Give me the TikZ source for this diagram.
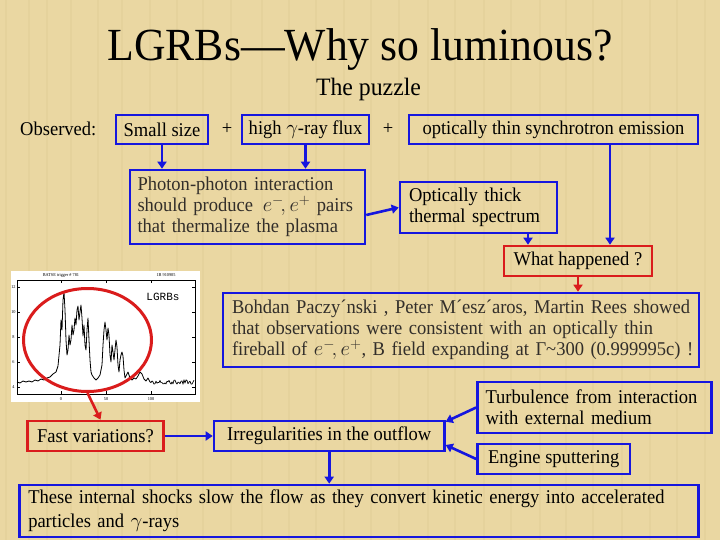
\documentclass[tikz,border=0pt]{standalone}
\usepackage{fontspec}
\setmainfont{Liberation Serif}[FakeStretch=0.95]
\newfontfamily\plotmono{Liberation Mono}
\usetikzlibrary{arrows.meta,calc,shapes.geometric}
\definecolor{bg}{RGB}{234,215,162}
\definecolor{bgdark}{RGB}{200,175,115}
\definecolor{bblue}{RGB}{22,22,222}
\definecolor{rred}{RGB}{218,28,28}
\definecolor{gtext}{RGB}{50,46,42}
\begin{document}
\begin{tikzpicture}[x=1pt,y=-1pt,
  box/.style={draw=bblue,line width=2.6pt,inner sep=0pt,font=\fontsize{19.5}{21}\selectfont},
  rbox/.style={box,draw=rred},
  arr/.style={draw=bblue,line width=2.6pt,-{Triangle[length=7pt,width=9pt]}},
  rarr/.style={arr,draw=rred},
  txt/.style={font=\fontsize{19.5}{21}\selectfont,inner sep=0pt},
  tiny/.style={font=\fontsize{4.5}{5}\selectfont,inner sep=0pt}]
\fill[bg] (0,0) rectangle (720,540);
\useasboundingbox (0,0) rectangle (720,540);
\foreach \x in {6,29,47,71,98,122,150,177,203,231,262,289,316,344,371,399,428,455,484,511,540,566,593,622,650,677,705}
  \draw[bgdark,opacity=0.12,line width=2pt] (\x,0) -- (\x,540);

% titles
\node[font=\fontsize{46}{50}\selectfont,anchor=base,inner sep=0pt] (title) at (360,61) {LGRBs—Why so luminous?};
\node[font=\fontsize{25}{28}\selectfont,anchor=base,inner sep=0pt] (sub) at (368.5,96) {The puzzle};

% first row
\node[txt,anchor=base west] (obs) at (20,135.5) {Observed:};
\node[box,minimum width=92pt,minimum height=29pt] (small) at (162,129.5) {Small size};
\node[txt] (plus1) at (227,129) {+};
\node[box,minimum width=127pt,minimum height=29pt] (high) at (305.5,129.5) {high $\gamma$-ray flux};
\node[txt] (plus2) at (388,129) {+};
\node[box,minimum width=289pt,minimum height=29pt] (thin) at (553.5,129.5) {optically thin synchrotron emission};

% second row
\node[box,minimum width=235pt,minimum height=74pt,text width=220pt,align=left,inner xsep=7.5pt,text=gtext] (photon) at (247.5,207)
  {\mbox{Photon-photon interaction}\\ \mbox{should produce \,$e^-\!, e^+$ pairs}\\ \mbox{that thermalize the plasma}};
\node[box,minimum width=157pt,minimum height=51pt,text width=139pt,align=left,inner xsep=9pt] (thick) at (478.5,207.5)
  {\mbox{Optically thick}\\ \mbox{thermal spectrum}};
\node[rbox,minimum width=148pt,minimum height=30pt] (what) at (578,261) {What happened ?};

% plot
\node[fill=white,minimum width=188.5pt,minimum height=131.6pt,inner sep=0pt] (plotimg) at (105.25,336.5) {};
\draw[line width=0.5pt] (17,280) rectangle (195,394);
\foreach \yy/\lab in {286.7/12,311.7/10,336.7/8,361.7/6,386.7/4} {
  \draw[line width=0.4pt] (17,\yy) -- (20,\yy);
  \draw[line width=0.4pt] (195,\yy) -- (192,\yy);
  \node[tiny] at (13.5,\yy) {\lab};
}
\foreach \xx/\lab in {61/0,106/50,151/100} {
  \draw[line width=0.4pt] (\xx,394) -- (\xx,391);
  \draw[line width=0.4pt] (\xx,280) -- (\xx,283);
  \node[tiny] at (\xx,399) {\lab};
}
\node[tiny] (hdr1) at (61,275.5) {BATSE trigger \# 781};
\node[tiny] (hdr2) at (166,275.5) {1B 910905};
\draw[line width=0.8pt,line join=round] plot coordinates {
(17,382)(20,383)(23,381)(26,382)(29,381)(32,382)(35,380)(38,381)(41,379)(44,380)(47,378)(50,377)(53,374)(56,372)(58,366)(60,345)(61,320)(62,330)(63,300)(64,292)(65,310)(66,340)(67,355)(68,350)(69,335)(70,345)(71,340)(72,325)(73,335)(74,330)(75,318)(76,325)(77,310)(78,306)(79,320)(80,312)(81,305)(82,318)(83,336)(84,325)(85,345)(86,350)(87,330)(88,318)(89,340)(90,360)(91,372)(92,375)(94,378)(96,380)(98,378)(100,375)(102,365)(103,345)(104,330)(105,322)(106,330)(107,340)(108,328)(109,335)(110,355)(111,362)(112,345)(113,352)(114,360)(115,350)(116,340)(117,347)(118,365)(119,372)(120,360)(121,355)(122,352)(123,356)(124,370)(125,378)(127,374)(128,372)(130,378)(132,380)(134,378)(136,379)(138,376)(140,372)(142,374)(144,379)(146,381)(148,378)(150,382)};
\pgfmathsetseed{7}
\draw[line width=0.7pt,line join=round] (150,382) \foreach \i in {1,...,44} { -- ({150+\i},{382+2.2*rand}) };
\node[font=\plotmono\fontsize{11}{12}\selectfont,inner sep=0pt] (lgrbs) at (163,297) {LGRBs};
\node[draw=rred,line width=3pt,ellipse,minimum width=128pt,minimum height=103pt,inner sep=0pt] (ell) at (87.5,340) {};

% Bohdan box
\node[box,minimum width=476pt,minimum height=74pt,text width=458pt,align=left,inner xsep=9pt,text=gtext] (bohdan) at (461,330)
  {\mbox{Bohdan Paczy´nski , Peter M´esz´aros, Martin Rees showed}\\ \mbox{that observations were consistent with an optically thin}\\ \mbox{fireball of $e^-\!, e^+$, B field expanding at Γ\textasciitilde 300 (0.999995c) !}};

% lower part
\node[box,minimum width=234pt,minimum height=51pt,text width=218pt,align=left,inner xsep=8pt] (turb) at (594.5,407.5)
  {\mbox{Turbulence from interaction}\\ \mbox{with external medium}};
\node[box,minimum width=152.5pt,minimum height=30pt] (engine) at (553.75,459) {Engine sputtering};
\node[box,minimum width=230.4pt,minimum height=30pt] (irreg) at (329.2,436) {Irregularities in the outflow};
\node[rbox,minimum width=136pt,minimum height=30pt] (fast) at (95.5,436) {Fast variations?};
\node[box,minimum width=679.5pt,minimum height=52pt,text width=661.5pt,align=left,inner xsep=9pt,font=\fontsize{19.5}{24}\selectfont] (bottom) at (359,511)
  {\mbox{These internal shocks slow the flow as they convert kinetic energy into accelerated}\\ \mbox{particles and $\gamma$-rays}};

% connectors
\coordinate (c1) at (528,0);
\coordinate (c2) at (610,0);
\draw[arr] (small.south) -- (small.south |- photon.north);
\draw[arr] (high.south) -- (high.south |- photon.north);
\draw[arr] ([yshift=-8pt]photon.east) -- (thick.west);
\draw[arr] (c1 |- thick.south) -- (c1 |- what.north);
\draw[arr] (c2 |- thin.south) -- (c2 |- what.north);
\draw[rarr] (what.south) -- (what.south |- bohdan.north);
\draw[rarr] (ell.south) -- ([xshift=5pt]fast.north);
\draw[arr] (fast.east) -- (irreg.west);
\draw[arr] (turb.west) -- ([yshift=-2pt]irreg.north east);
\draw[arr] (engine.west) -- ([yshift=-9pt]irreg.east);
\draw[arr] (irreg.south) -- (irreg.south |- bottom.north);
\end{tikzpicture}
\end{document}
